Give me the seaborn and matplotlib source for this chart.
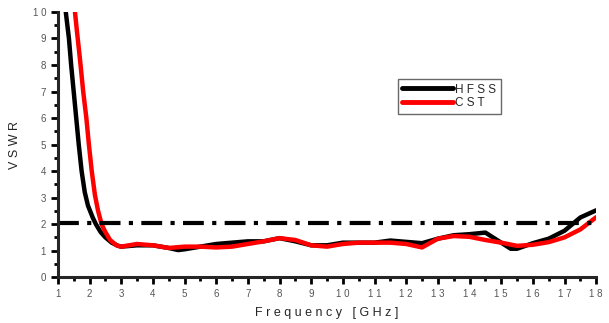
import pandas as pd
import matplotlib.pyplot as plt
import seaborn as sns
from matplotlib.ticker import MultipleLocator

# HFSS simulated VSWR
hfss_freq = [1.25, 1.3, 1.35, 1.42, 1.5, 1.58, 1.66, 1.75, 1.85, 1.95, 2.1, 2.2, 2.35, 2.5,
             2.7, 2.9, 3.0, 3.5, 4.0, 4.5, 4.8,
             5.0, 5.5, 6.0, 6.5, 7.0, 7.5, 8.0, 8.5, 9.0, 9.5, 10.0, 10.5, 11.0, 11.5, 12.0,
             12.5, 13.0, 13.5, 14.0, 14.5, 15.0, 15.3, 15.5, 16.0, 16.5, 17.0, 17.5, 18.0]
hfss_vswr = [10, 9.5, 9, 8, 7, 6, 5, 4, 3.2, 2.7, 2.25, 2.0, 1.7, 1.5,
             1.3, 1.18, 1.15, 1.2, 1.2, 1.1, 1.02,
             1.05, 1.15, 1.25, 1.3, 1.35, 1.35, 1.47, 1.35, 1.2, 1.2, 1.3, 1.3, 1.3, 1.38, 1.33,
             1.28, 1.45, 1.58, 1.62, 1.68, 1.3, 1.07, 1.07, 1.28, 1.45, 1.75, 2.25, 2.52]

# CST simulated VSWR
cst_freq = [1.54, 1.6, 1.7, 1.8, 1.9, 1.98, 2.07, 2.17, 2.27, 2.38, 2.5, 2.65, 2.85,
            3.0, 3.5, 4.0, 4.5, 5.0,
            5.5, 6.0, 6.5, 7.0, 7.5, 8.0, 8.5, 9.0, 9.5, 10.0, 10.5, 11.0, 11.5, 12.0,
            12.5, 13.0, 13.5, 14.0, 14.5, 15.0, 15.5, 16.0, 16.5, 17.0, 17.5, 18.0]
cst_vswr = [10, 9.3, 8.2, 7, 6, 5, 4, 3.1, 2.5, 2.0, 1.7, 1.4, 1.2,
            1.15, 1.25, 1.2, 1.1, 1.15,
            1.15, 1.12, 1.15, 1.25, 1.35, 1.47, 1.4, 1.2, 1.15, 1.25, 1.3, 1.3, 1.3, 1.25,
            1.12, 1.45, 1.55, 1.52, 1.4, 1.3, 1.18, 1.22, 1.32, 1.5, 1.8, 2.26]

ref_level = 2.05
x_ticks = list(range(1, 19))
y_ticks = list(range(0, 11))

df = pd.concat([
    pd.DataFrame({'freq': hfss_freq, 'vswr': hfss_vswr, 'tool': 'H F S S'}),
    pd.DataFrame({'freq': cst_freq, 'vswr': cst_vswr, 'tool': 'C S T'}),
])

sns.set_style("ticks")
plt.rcParams['font.family'] = ['Liberation Sans', 'DejaVu Sans']

fig, ax = plt.subplots(figsize=(6.09, 3.23), dpi=100)
fig.subplots_adjust(left=0.095, right=0.979, bottom=0.142, top=0.963)

sns.lineplot(data=df, x='freq', y='vswr', hue='tool', sort=False,
             palette={'H F S S': 'black', 'C S T': 'red'}, linewidth=3.2, ax=ax)
ax.plot([x_ticks[0], x_ticks[-1]], [ref_level, ref_level], color='black',
        linewidth=3, linestyle=(0, (5, 2, 1, 2)))

ax.set_xlim(1, 18)
ax.set_ylim(0, 10)
ax.set_xticks(x_ticks)
ax.set_xticklabels([' '.join(str(t)) for t in x_ticks])
ax.set_yticks(y_ticks)
ax.set_yticklabels([' '.join(str(t)) for t in y_ticks])
ax.xaxis.set_minor_locator(MultipleLocator(0.5))
ax.yaxis.set_minor_locator(MultipleLocator(0.5))
ax.tick_params(which='both', direction='out', width=2, color='black')
ax.tick_params(which='major', length=5, labelsize=7, labelcolor='#555555')
ax.tick_params(which='minor', length=3)
for s in ['left', 'bottom']:
    ax.spines[s].set_linewidth(2.2)
sns.despine(ax=ax)

ax.set_xlabel('F r e q u e n c y   [ G H z ]', fontsize=9, labelpad=6)
ax.set_ylabel('V S W R', fontsize=9, labelpad=8)

leg = ax.legend(loc='upper left', bbox_to_anchor=(0.62, 0.77), frameon=True,
                fancybox=False, edgecolor='#444444', fontsize=8.5, handlelength=4.3,
                handletextpad=0.2, borderpad=0.4, labelspacing=0.15, title=None)
leg.get_frame().set_linewidth(1)
for h in leg.get_lines():
    h.set_linewidth(3.5)

plt.savefig('out.png')
plt.close()
